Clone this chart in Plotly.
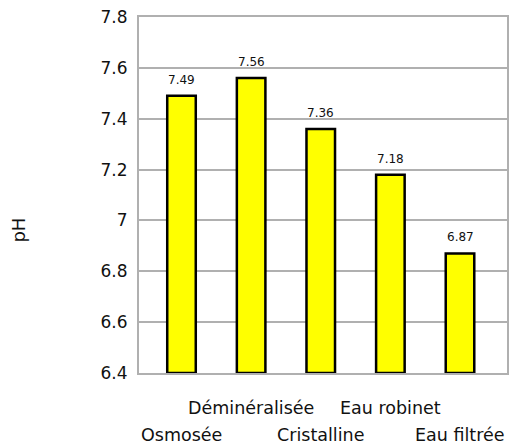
import plotly.graph_objects as go

# données
categories = ["Osmosée", "Déminéralisée", "Cristalline", "Eau robinet", "Eau filtrée"]
ph_values = [7.49, 7.56, 7.36, 7.18, 6.87]
y_min = 6.4
y_ticks = [6.4, 6.6, 6.8, 7.0, 7.2, 7.4, 7.6, 7.8]
y_tick_labels = ["6.4", "6.6", "6.8", "7", "7.2", "7.4", "7.6", "7.8"]

grid_color = "#b0b0b0"
font_family = "DejaVu Sans, sans-serif"
text_color = "#111111"

# les barres partent de 6.4 (bas de l'axe)
fig = go.Figure(go.Bar(
    x=categories,
    y=[v - y_min for v in ph_values],
    base=y_min,
    marker=dict(color="#ffff00", line=dict(color="black", width=2.5)),
))

annotations = []
# valeurs au-dessus des barres
for c, v in zip(categories, ph_values):
    annotations.append(dict(
        x=c, y=v, xref="x", yref="y", text=f"{v:g}",
        showarrow=False, yanchor="bottom", yshift=7,
        font=dict(size=12, color=text_color),
    ))
# étiquettes de catégories décalées sur deux lignes (comme Excel)
for i, c in enumerate(categories):
    annotations.append(dict(
        x=c, y=0, xref="x", yref="paper", text=c,
        showarrow=False, yanchor="middle",
        yshift=-62 if i % 2 == 0 else -35,
        font=dict(size=17.5, color=text_color),
    ))
# titre de l'axe y
annotations.append(dict(
    text="pH", textangle=-90, xref="paper", yref="paper",
    x=0, y=0.40, xshift=-120, xanchor="center", yanchor="middle",
    showarrow=False, font=dict(size=18, color=text_color),
))

fig.update_layout(
    width=509, height=437,
    margin=dict(l=131, r=10, t=9, b=72),
    plot_bgcolor="white", paper_bgcolor="white",
    bargap=0.59,
    showlegend=False,
    font=dict(family=font_family, color=text_color),
    xaxis=dict(
        showticklabels=False, ticks="", automargin=False,
        showline=True, linecolor=grid_color, linewidth=2, mirror=True,
    ),
    yaxis=dict(
        range=[6.4, 7.8], tickvals=y_ticks, ticktext=y_tick_labels,
        tickfont=dict(size=17), ticks="", automargin=False,
        ticklabelstandoff=6, ticklabeloverflow="allow",
        showgrid=True, gridcolor=grid_color, gridwidth=2,
        showline=True, linecolor=grid_color, linewidth=2, mirror=True,
        zeroline=False,
    ),
    annotations=annotations,
)

fig.write_html("out.html")
